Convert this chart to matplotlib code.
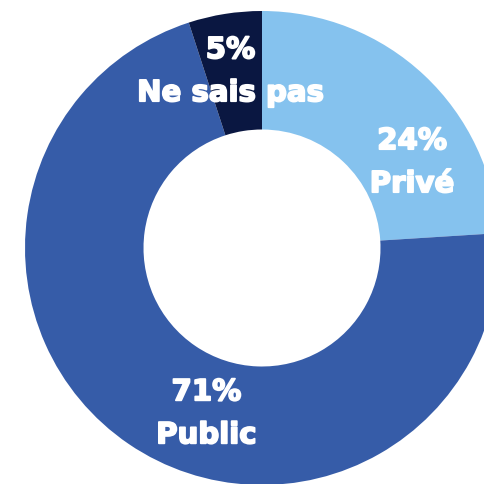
import matplotlib
matplotlib.use("Agg")
import matplotlib.pyplot as plt
import matplotlib.patheffects as pe
import numpy as np

categories = ["Privé", "Public", "Ne sais pas"]
values = [24, 71, 5]
pct_labels = ["24%", "71%", "5%"]
colors = ["#85C2EE", "#365CA8", "#0A1741"]

W = 485
cx, cy, R = 262, 249, 237  # pixel center and radius of donut

fig = plt.figure(figsize=(4.85, 4.85), dpi=100)
ax = fig.add_axes([0, 0, 1, 1])
ax.pie(values, colors=colors, startangle=90, counterclock=False,
       radius=1.0, wedgeprops=dict(width=0.5, edgecolor="none"))
ax.set_xlim(-cx / R, (W - cx) / R)
ax.set_ylim(-(W - cy) / R, cy / R)
ax.set_aspect("auto")
ax.axis("off")

# label anchor positions (angle in degrees, radius) per category
label_pos = {"Privé": (30.4, 0.734), "Public": (251.2, 0.727), "Ne sais pas": (100, 0.767)}
font = dict(color="white", fontsize=21, fontweight="bold", family=["DejaVu Sans"],
            ha="center", va="center",
            path_effects=[pe.withStroke(linewidth=1.3, foreground="white")])
yoff = -2.7 / R
gap = 21.5 / R
for cat, pct in zip(categories, pct_labels):
    ang, r = label_pos[cat]
    x = r * np.cos(np.radians(ang))
    y = r * np.sin(np.radians(ang)) + yoff
    ax.text(x, y + gap, pct, **font)
    ax.text(x, y - gap, cat, **font)

fig.savefig("out.png", dpi=100)
